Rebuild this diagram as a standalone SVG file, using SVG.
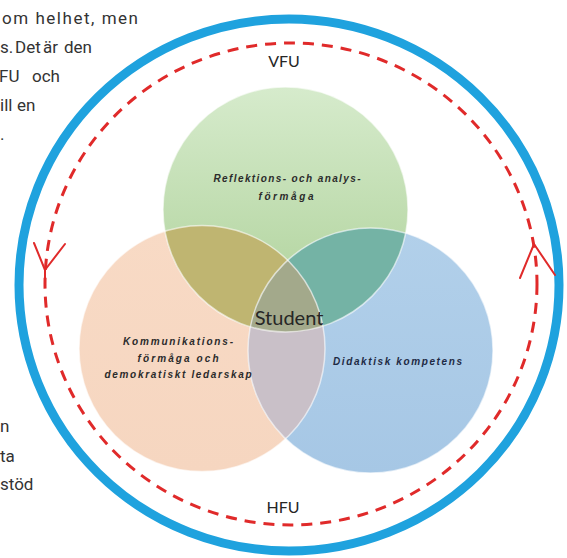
<svg xmlns="http://www.w3.org/2000/svg" width="567" height="558" viewBox="0 0 567 558">
  <defs>
    <style>
      .para { font-family: Roboto, "Liberation Sans", sans-serif; font-size: 17px; fill: #333333; }
      .lbl { font-family: Lato, "Liberation Sans", sans-serif; font-size: 16px; fill: #262626; }
      .venn { font-family: "Liberation Sans", Arial, sans-serif; font-size: 10px; font-weight: bold; font-style: italic; fill: #2b2b2b; }
      .rim { fill: none; stroke: #ffffff; stroke-opacity: 0.6; stroke-width: 1.5; }
      .loop { fill: none; stroke: #e02a2a; stroke-width: 3; stroke-dasharray: 11 8; }
      .arrow { fill: none; stroke: #e02a2a; stroke-width: 2; stroke-linecap: round; stroke-linejoin: round; }
    </style>
    <linearGradient id="gGreen" x1="0" y1="0" x2="0" y2="1">
      <stop offset="0" stop-color="#d6ebcc"/>
      <stop offset="1" stop-color="#acd097"/>
    </linearGradient>
    <linearGradient id="gOrange" x1="0" y1="0" x2="0" y2="1">
      <stop offset="0" stop-color="#f8dac5"/>
      <stop offset="1" stop-color="#f6d6c0"/>
    </linearGradient>
    <linearGradient id="gBlue" x1="0" y1="0" x2="0" y2="1">
      <stop offset="0" stop-color="#b2d0ea"/>
      <stop offset="1" stop-color="#a6c7e5"/>
    </linearGradient>
    <clipPath id="cG"><circle cx="285.5" cy="209.5" r="122.5"/></clipPath>
    <clipPath id="cO"><circle cx="202" cy="348.5" r="123"/></clipPath>
  </defs>

  <rect width="567" height="558" fill="#ffffff"/>

  <!-- cut-off paragraph text -->
  <g id="paragraph-top">
    <text class="para" x="2" y="24" textLength="136">om helhet, men</text>
    <text class="para" y="53"><tspan x="0">s.</tspan><tspan x="15">Det</tspan><tspan x="43">är</tspan><tspan x="64">den</tspan></text>
    <text class="para" y="82"><tspan x="-1">FU</tspan><tspan x="32">och</tspan></text>
    <text class="para" y="111"><tspan x="0">ill</tspan><tspan x="17">en</tspan></text>
    <text class="para" y="140" x="0">.</text>
  </g>
  <g id="paragraph-bottom">
    <text class="para" y="432" x="0">n</text>
    <text class="para" y="462" x="0">ta</text>
    <text class="para" y="490" x="0">stöd</text>
  </g>

  <!-- outer blue ring -->
  <g id="outer-ring">
    <ellipse cx="289" cy="285" rx="270" ry="266" fill="none" stroke="#1fa2de" stroke-width="9"/>
  </g>

  <!-- connectors: dashed cycle with arrows -->
  <g id="connectors">
    <ellipse class="loop" cx="291" cy="284" rx="246" ry="241"/>
    <polyline class="arrow" points="34,243 45,270 65,244"/>
    <line class="arrow" x1="45" y1="270" x2="45" y2="285"/>
    <polyline class="arrow" points="520,278 534,244 555,275"/>
  </g>

  <!-- Venn circles -->
  <g id="node-orange">
    <circle cx="202" cy="348.5" r="123" fill="url(#gOrange)"/>
  </g>
  <g id="node-green">
    <circle cx="285.5" cy="209.5" r="122.5" fill="url(#gGreen)"/>
  </g>
  <g id="node-blue">
    <circle cx="370.5" cy="350.5" r="122.5" fill="url(#gBlue)"/>
  </g>
  <g id="overlaps">
    <circle cx="202" cy="348.5" r="123" fill="#bfb571" clip-path="url(#cG)"/>
    <circle cx="370.5" cy="350.5" r="122.5" fill="#74b3a5" clip-path="url(#cG)"/>
    <circle cx="370.5" cy="350.5" r="122.5" fill="#c9c0c8" clip-path="url(#cO)"/>
    <g clip-path="url(#cG)">
      <circle cx="370.5" cy="350.5" r="122.5" fill="#a3a98b" clip-path="url(#cO)"/>
    </g>
  </g>
  <g id="rims">
    <circle class="rim" cx="202" cy="348.5" r="123"/>
    <circle class="rim" cx="285.5" cy="209.5" r="122.5"/>
    <circle class="rim" cx="370.5" cy="350.5" r="122.5" stroke="#e3f0fb" stroke-opacity="0.9" stroke-width="2.5"/>
  </g>

  <!-- labels -->
  <g id="label-green">
    <text class="venn" x="287" y="182" text-anchor="middle" textLength="147">Reflektions- och analys-</text>
    <text class="venn" x="286" y="200" text-anchor="middle" textLength="55">förmåga</text>
  </g>
  <g id="label-orange">
    <text class="venn" x="178" y="345" text-anchor="middle" textLength="110">Kommunikations-</text>
    <text class="venn" x="178" y="362" text-anchor="middle" textLength="81">förmåga och</text>
    <text class="venn" x="178" y="378" text-anchor="middle" textLength="147">demokratiskt ledarskap</text>
  </g>
  <g id="label-blue">
    <text class="venn" x="333" y="365" textLength="129" style="fill:#1e2a44">Didaktisk kompetens</text>
  </g>
  <g id="node-student">
    <text class="lbl" x="289" y="325" text-anchor="middle" style="font-size:20px">Student</text>
  </g>
  <g id="label-vfu">
    <text class="lbl" x="284" y="67" text-anchor="middle">VFU</text>
  </g>
  <g id="label-hfu">
    <text class="lbl" x="283" y="513" text-anchor="middle">HFU</text>
  </g>
</svg>
